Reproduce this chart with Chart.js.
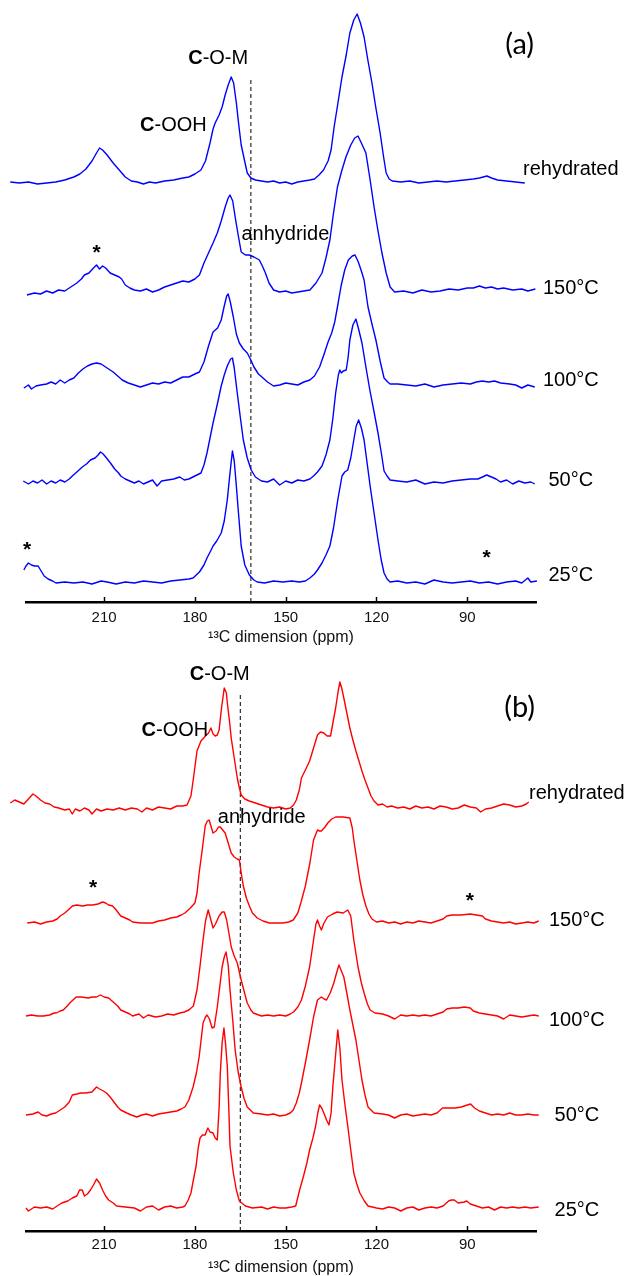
<!DOCTYPE html>
<html><head><meta charset="utf-8">
<script src="https://cdn.jsdelivr.net/npm/chart.js@4.4.1/dist/chart.umd.min.js"></script>
<style>
html,body{margin:0;padding:0;background:#fff;}
#wrap{position:relative;width:628px;height:1276px;overflow:hidden;}
#ca{position:absolute;left:0;top:0;}
#cb{position:absolute;left:0;top:650px;}
</style></head><body>
<div id="wrap"><canvas id="ca" width="628" height="650"></canvas><canvas id="cb" width="628" height="626"></canvas></div>
<script>
// ---------- data ----------
const tickValues = [210, 180, 150, 120, 90];
const seriesLabels = ['rehydrated', '150°C', '100°C', '50°C', '25°C'];
const axisTitle = '¹³C dimension (ppm)';
const ppmRange = [67.3, 235.8];          // [min, max] of the (reversed) ppm axis
const offsetsA = [419, 309, 216, 119, 19]; // stacking offsets, panel (a)
const offsetsB = [423, 308, 215, 116, 23]; // stacking offsets, panel (b)
const dashPpmA = 161.5, dashTopA = 522;
const dashPpmB = 165, dashTopB = 538;

// panel (a) spectra: [ppm, intensity]
const a_rehydrated = [[241,1],[238,0],[235,1],[232,-1],[229,0],[226,1],[223,3],[220,6],[218,9],[216,14],[214,22],[212.5,30],[211.5,35],[210.5,33],[209,28],[207,20],[205,13],[203,6],[201,2],[199,1],[197,-1],[195,1],[193,0],[190,2],[187,3],[184,5],[182,6],[180,9],[178,13],[176.5,22],[175,40],[174,54],[173.3,60],[172,68],[171,76],[170,88],[169,98],[168,106],[167.2,100],[166.3,80],[165.5,58],[164.7,38],[163.7,24],[162.7,10],[161.5,5],[160,3],[158,2],[156,1],[154,2],[152,0],[150,1],[148,-1],[146,1],[144,2],[142,3],[140.5,4],[139,8],[137.5,13],[136,22],[135,33],[134,56],[133,75],[131.4,106],[130,128],[128.8,150],[127.5,163],[126.4,169],[125.3,160],[124.1,146],[122.8,122],[121.5,100],[120.2,75],[118.8,50],[117.6,25],[116.8,10],[115.8,4],[114.8,2],[112,1],[109,2],[106,0],[103,1],[100,2],[97,1],[94,2],[91,3],[88,4],[86,5],[83.5,7],[82,5],[80,3],[77,2],[74,1],[71,0]];
const a_150 = [[235.5,-2],[233,0],[231,-1],[229,2],[227,0],[225,3],[223,2],[221,6],[219,10],[217.5,14],[216.5,18],[215,20],[213.5,25],[212.5,28],[211.5,24],[210.5,27],[209.5,25],[208,20],[206.5,18],[205,16],[204.2,14],[203,8],[201.5,5],[200,3],[198,2],[196,4],[194,1],[192,3],[190,6],[188,8],[186,10],[184,12],[182,11],[180,14],[178.5,18],[177,30],[175.5,40],[174,50],[172.6,60],[171.3,72],[170,86],[169,95],[168.4,98],[167.5,92],[166.7,76],[165.7,58],[164.7,41],[163.3,38],[162,38],[160.5,36],[158.7,33],[157.7,27],[156.7,20],[155.5,10],[154,3],[152,1],[150,2],[148,0],[146,1],[144,2],[142,3],[140,10],[138,20],[136.7,35],[135.4,53],[134.2,80],[132.9,106],[131.5,122],[130.1,136],[128.5,148],[127.2,155],[126.1,157],[125,150],[123.5,140],[122.2,115],[120.8,86],[119.5,62],[118.2,40],[116.8,20],[115.5,6],[114,1],[111,2],[108,0],[105,3],[102,1],[99,2],[96,4],[93,3],[90,5],[88,5],[86,7],[84,5],[82,6],[80,4],[78,5],[75,3],[72,4],[70,2],[67.5,4]];
const a_100 = [[236.5,-2],[235,1],[234,-3],[232.5,0],[231,1],[229,2],[227.5,4],[226,2],[224.5,6],[223,3],[221.5,6],[220,8],[218.5,13],[217,17],[215.5,20],[214,22],[212.5,23],[211,22],[209.5,19],[208,16],[207,14],[205.5,10],[204,6],[202,3],[200,1],[198,-1],[196,1],[194,3],[192,2],[190,4],[188,3],[186,6],[184,9],[182,9],[180,12],[178.5,14],[177,24],[175.5,40],[174,54],[172.5,58],[171.3,66],[170.3,80],[169.5,90],[169,92],[168.3,84],[167.3,69],[166.3,52],[165.3,43],[164,37],[162.7,33],[161.5,26],[160.5,19],[159,12],[157.5,8],[156,4],[154,0],[152,1],[150,3],[148,2],[146,1],[144,4],[142,6],[140.5,10],[138.8,19],[137.3,32],[136,44],[134.8,53],[133.8,64],[132.9,79],[131.7,100],[130.5,116],[129.3,126],[128,130],[127.1,131],[126,124],[125,115],[124.1,106],[122.8,79],[121.5,62],[120.2,46],[118.8,25],[117.5,8],[116.3,4],[115.5,2],[113,2],[110,1],[107,0],[104,2],[101,-1],[98,1],[95,2],[92,3],[89,2],[87,4],[85,5],[83,4],[81,5],[79,3],[76,2],[74,1],[72,-2],[70,1],[67.7,-1]];
const a_50 = [[236.7,2],[235,-1],[233.5,2],[232,0],[230.5,3],[229,-1],[227.5,2],[226,0],[224.5,3],[223,1],[221.5,4],[220.5,7],[219,11],[217.2,16],[215.8,19],[214.5,23],[213,25],[212,28],[211.2,31],[210.3,29],[209.2,25],[207.9,20],[206.5,14],[205.2,10],[204.5,7],[203,4],[201.5,2],[200,0],[198.5,2],[197,-1],[195.5,1],[194,3],[192.5,-3],[191,2],[189,3],[187,4],[185,6],[183.5,3],[182,4],[180,7],[178,10],[177,18],[176,30],[175,45],[174,60],[172.5,80],[171.3,97],[170.3,108],[169.3,117],[168.2,124],[167.6,125],[167,115],[166,90],[165,66],[164,43],[162.7,25],[161.4,13],[160,6],[158,2],[156,1],[154,4],[152,-2],[150,2],[148,0],[146,3],[144,2],[142,4],[140.8,7],[139.5,11],[138,17],[136.7,28],[135.4,43],[134.4,65],[133.5,90],[132.6,108],[132.1,113],[131.6,110],[131,112],[130,113],[129.4,125],[128.8,143],[127.8,158],[126.8,164],[126,155],[124.8,140],[123.5,116],[122.2,93],[120.8,71],[119.5,50],[118.3,28],[117.5,12],[116.5,7],[115.5,3],[113,2],[110,1],[107,3],[104,-1],[101,1],[98,0],[95,2],[92,3],[89,4],[86.5,4],[85,6],[83.6,8],[82,6],[80.5,4],[79,1],[77,3],[75,-1],[73,2],[71,0],[69,1],[67.7,-1]];
const a_25 = [[236.5,13],[235.8,17],[235,20],[234,18],[233,17],[231.8,17],[230.8,12],[229.8,7],[228.5,4],[227,2],[225.9,0],[223,1],[220,0],[217,1],[214,-1],[211,2],[209,1],[206,-1],[203,1],[200,0],[197,2],[194,1],[191,0],[188,2],[185,3],[182,4],[180.6,5],[178.5,11],[177,18],[176,25],[174.8,32],[174,37],[172.8,42],[171.3,50],[170.3,62],[169.3,83],[168.4,110],[167.6,132],[167,122],[166.3,97],[165.6,70],[164.7,37],[163.5,18],[162,8],[160.5,3],[159.4,1],[157,0],[154,2],[151,1],[148,2],[145.5,1],[143.5,2],[142,5],[140.5,9],[139.5,13],[138,20],[136.7,28],[135.4,37],[134.2,55],[132.8,83],[131.4,107],[130.5,111],[129.5,113],[128.5,125],[127.5,143],[126.7,157],[125.9,163],[125,155],[124.1,143],[123.1,120],[122.1,97],[120.8,70],[119.5,43],[118.5,24],[117.5,10],[116.5,4],[115.5,1],[113,2],[110,0],[107,1],[104,-1],[101,3],[98,1],[95,0],[92,1],[89,2],[86,0],[83,1],[80,-1],[77,1],[74,2],[72,0],[70,5],[69,1],[67,2]];

// panel (b) spectra: [ppm, intensity]
const b_rehydrated = [[241,5],[239.5,8],[238,6],[236.5,4],[235,9],[233.5,14],[232.5,12],[231,8],[229.5,5],[228,4],[226.5,1],[225,0],[223,-2],[221.5,-1],[220.5,-6],[219.5,-1],[218,-3],[216.5,0],[215,-2],[214,-6],[212.5,-1],[211,-3],[209,-1],[207,-2],[205,0],[203,-2],[201,0],[199,-1],[197.5,-4],[196,0],[194,-2],[192,1],[190,0],[188,-1],[186,2],[184,2],[182.6,3],[181.3,12],[180.6,27],[179.3,57],[178,67],[176.5,72],[175.5,75],[174.7,80],[174,74],[173.3,72],[172.6,73],[172,78],[171.2,100],[170.3,120],[169.6,115],[169.2,103],[168.5,85],[168,70],[167,50],[166,30],[165.3,20],[164.7,13],[163.5,9],[162,7],[160,5],[158,3],[156,1],[154,0],[152,1],[150,-1],[148.5,0],[147.4,3],[146.5,8],[145.5,18],[144.8,30],[143.5,38],[142.1,47],[140.8,60],[139.5,73],[138.5,76],[137.4,75],[136.3,72],[135.2,72],[134.4,85],[133.5,100],[132.7,116],[132.1,126],[131.5,120],[130.8,110],[129.8,95],[128.8,80],[127.8,68],[126.8,57],[125.8,47],[124.8,37],[123.8,28],[122.8,20],[121.8,12],[120.8,7],[119.5,3],[118,4],[116.5,1],[115,2],[113,0],[111,1],[109,-1],[107,2],[105,0],[103,1],[101,-1],[99,2],[97,1],[95,-1],[93,0],[91,3],[89,1],[87,0],[85.6,-4],[84,-1],[82,0],[80,2],[78,4],[76,3],[74,1],[72,2],[70.5,4],[69.7,6]];
const b_150 = [[235.4,0],[233,1],[231,-1],[229,1],[227,2],[225.5,4],[224.5,7],[223,10],[221.5,14],[220.5,17],[219,18],[217,17],[215.5,18],[213.8,18],[212,19],[210.5,21],[209.5,20],[208.5,18],[207.2,17],[206,13],[205,9],[204.5,7],[203,5],[201.5,3],[200.6,1],[198,0],[196,0],[194,0],[192,2],[190,3],[188,5],[186,6],[184.5,8],[183.3,10],[181.5,15],[180,20],[179.3,30],[178.6,50],[177.5,75],[176.6,97],[175.9,102],[175.3,103],[174.6,96],[174,90],[173,92],[172.2,96],[171.6,96],[170.8,93],[170,90],[169,80],[168,70],[167,66],[166,64],[165.3,63],[164.7,50],[164,37],[163,25],[162,17],[161,10],[159.4,5],[157.5,2],[155.4,0],[153,0],[151,0],[149,1],[147.5,3],[146,10],[145,20],[143.5,37],[142,60],[140.8,83],[139.5,93],[138.8,92],[138.2,92],[137,96],[136.1,100],[134.8,104],[133.5,106],[131,106],[128.8,105],[128,95],[127.5,83],[126.5,63],[125.5,43],[124.5,28],[123.5,17],[122.5,9],[121.5,4],[120,1],[118,2],[116,0],[114,1],[112,-1],[110,1],[108,0],[106,2],[104,1],[102,0],[100,2],[98,4],[96.8,7],[95,8],[92,8],[89,9],[87,8],[85,7],[84,4],[82,2],[80,1],[78,0],[76,1],[74,-1],[72,0],[70,1],[68,0],[66.4,2]];
const b_100 = [[235.8,0],[234,1],[232,0],[230,0],[228,1],[226.5,3],[225.8,3],[224.5,5],[223.5,6],[222.5,9],[221,14],[219.2,19],[217.5,19],[215.2,18],[214,19],[212.5,19],[211.2,21],[210,19],[208.5,18],[207,14],[205.5,10],[204.5,6],[203,4],[201.5,2],[200.6,0],[198.5,2],[197,-2],[195.5,1],[193,-1],[191,0],[189,2],[187,1],[185,3],[183.5,4],[182,6],[180.5,10],[179.3,26],[178.3,50],[177.3,76],[176.5,95],[175.6,106],[174.8,97],[174,88],[173.2,92],[172,100],[171,104],[170.3,104],[169.5,96],[168.6,80],[168,69],[167,60],[166,53],[164.7,36],[163.5,22],[162.7,13],[161.5,6],[160.7,3],[158,0],[156,1],[154,0],[152,1],[150,0],[148.5,2],[147.4,4],[146,9],[144.8,16],[143.5,30],[142.1,49],[140.8,76],[140,92],[139.5,96],[138.8,90],[138.2,86],[137.5,92],[136.2,99],[134.5,102],[133,104],[131,103],[129.5,106],[128.5,100],[127.5,76],[126.1,49],[125,33],[124.1,23],[123,12],[122.1,6],[120.5,3],[118,2],[116,0],[114,-3],[112,1],[110,0],[108,1],[106,0],[104,1],[102,0],[100,2],[98,4],[96.8,7],[95,8],[93,8],[91,9],[89,8],[88,5],[86,3],[84,2],[82,1],[80,0],[78,-3],[76,1],[74,0],[72,-1],[70,0],[68,1],[66.4,0]];
const b_50 = [[235.8,0],[233.5,1],[231.8,3],[230.5,0],[229,-1],[227.5,1],[226,2],[224.5,5],[223,8],[221.5,13],[220.5,20],[219,21],[217.8,22],[216,22],[214,23],[212.5,28],[211.5,26],[210.2,24],[209.2,22],[208,18],[206.5,12],[205.5,8],[204.5,5],[202.5,2],[201,0],[199.2,-2],[197.5,0],[196,1],[194,-1],[192,1],[190,2],[188,3],[186,4],[184.5,6],[183.3,8],[182,15],[180.6,28],[179.5,42],[178.6,58],[177.3,92],[176.5,98],[176,100],[175.2,96],[174.3,87],[173.6,88],[172.6,108],[171.8,128],[171,148],[170.3,158],[169.7,163],[169,150],[168.4,125],[167.5,95],[166.7,65],[165.7,43],[164.7,28],[163.7,16],[162.7,8],[160.7,2],[158,1],[156,0],[154,1],[152,-1],[150,0],[148.5,2],[147.5,5],[146.5,12],[145.5,22],[144.8,32],[143.5,52],[142.1,75],[140.8,98],[139.5,115],[138.2,118],[137.3,116],[136.5,115],[135.3,122],[134.1,132],[133.2,142],[132.4,150],[131.6,144],[130.8,138],[129.8,122],[128.8,105],[127.8,90],[126.8,75],[125.8,55],[124.8,35],[123.8,20],[122.8,8],[120.8,2],[118,1],[116,0],[114,-3],[112,0],[110,1],[108,-1],[106,0],[104,1],[102,0],[100,2],[98.2,7],[96,7],[94,7],[92,8],[90,10],[88.9,11],[87.6,7],[86,4],[84,2],[82,0],[80,1],[78,0],[76,2],[74,0],[72,0],[70,1],[68,0],[66.4,0]];
const b_25 = [[235.8,0],[235,-3],[233,1],[231,0],[229,1],[227,-1],[225.5,2],[224,5],[222,7],[220.5,10],[219,12],[218.1,18],[217.2,18],[216.5,12],[215.5,14],[214.5,18],[213.5,23],[212.5,29],[211.5,25],[210.5,18],[209.5,12],[208.5,8],[207,5],[205.9,2],[203,1],[200,0],[198,-3],[196,1],[194,2],[192,-2],[190,1],[188,2],[186,0],[184,1],[183.3,2],[182.2,8],[181.3,15],[180.5,28],[179.6,42],[178.9,60],[178.3,70],[177.5,73],[176.6,73],[176,78],[175.7,80],[175,76],[174,75],[173.3,70],[172.6,68],[172,100],[171.6,135],[171,165],[170.4,180],[169.9,165],[169.3,142],[168.8,100],[168.4,62],[167.3,35],[166.3,18],[165.3,7],[163.3,2],[161,0],[158,1],[156,-1],[154,1],[152,0],[150,0],[148,1],[146.7,2],[145.4,18],[144.1,32],[143,45],[142.1,58],[141,70],[140.1,82],[139.4,95],[138.8,103],[138.1,100],[137.4,95],[136.5,88],[135.7,83],[135,95],[134.4,122],[133.6,150],[132.8,178],[132.1,160],[131.4,128],[130.5,105],[129.5,82],[128.5,58],[127.5,35],[126.5,24],[125.5,15],[124,7],[122.8,2],[120,0],[118,-1],[116,1],[114,0],[112,-3],[110,0],[108,1],[106,-2],[104,0],[102,1],[100,0],[98,2],[96.2,7],[95.2,8],[94.3,8],[93,5],[91,6],[90.2,7],[89,4],[87,2],[85,0],[83,1],[81,-2],[79,1],[77,0],[75,1],[73,0],[71,1],[69,0],[66.4,1]];

const spectraA = [a_rehydrated, a_150, a_100, a_50, a_25];
const spectraB = [b_rehydrated, b_150, b_100, b_50, b_25];

// ---------- rendering ----------
const FONT = '"Liberation Sans", Arial, Helvetica, sans-serif';

function makePlugin(items) {
  return {
    id: 'annot',
    afterDraw(chart) {
      const ctx = chart.ctx, xs = chart.scales.x, ys = chart.scales.y;
      ctx.save();
      // inward tick marks on the x axis
      ctx.strokeStyle = '#000'; ctx.lineWidth = 1.5;
      xs.ticks.forEach(t => {
        const px = Math.round(xs.getPixelForValue(t.value)) + 0.5;
        ctx.beginPath(); ctx.moveTo(px, xs.top); ctx.lineTo(px, xs.top - 5); ctx.stroke();
      });
      // text annotations
      ctx.fillStyle = '#000';
      ctx.textBaseline = 'alphabetic'; ctx.textAlign = 'left';
      for (const it of items) {
        const parts = it.parts || [[it.text, it.weight || 'normal']];
        const size = it.size || 20, fam = it.family || FONT;
        let total = 0, asc = 0, desc = 0;
        const ms = parts.map(([t, w]) => {
          ctx.font = `${w} ${size}px ${fam}`;
          const m = ctx.measureText(t);
          total += m.width;
          asc = Math.max(asc, m.actualBoundingBoxAscent);
          desc = Math.max(desc, m.actualBoundingBoxDescent);
          return m;
        });
        const cx = xs.getPixelForValue(it.x), cy = ys.getPixelForValue(it.y);
        let x = cx - total / 2;
        const base = cy + (asc - desc) / 2;
        parts.forEach(([t, w], i) => {
          ctx.font = `${w} ${size}px ${fam}`;
          ctx.fillText(t, x, base);
          x += ms[i].width;
        });
      }
      ctx.restore();
    }
  };
}

function buildChart(canvasId, spectra, offsets, color, dashPpm, dashTop, yMax, xHeight, titlePad, tickPad, labelX, labelY, items) {
  const datasets = spectra.map((spec, i) => ({
    label: seriesLabels[i],
    data: spec.map(([p, v]) => ({ x: p, y: v + offsets[i] })),
    borderColor: color, borderWidth: 1.4, pointRadius: 0, showLine: true,
    tension: 0, clip: false, borderJoinStyle: 'round'
  }));
  datasets.push({
    label: 'ref', data: [{ x: dashPpm, y: 0 }, { x: dashPpm, y: dashTop }],
    borderColor: '#000', borderWidth: 1, borderDash: [4, 3], pointRadius: 0, showLine: true, clip: false
  });
  const allItems = items.concat(seriesLabels.map((s, i) => ({ text: s, x: labelX, y: labelY[i], size: 20 })));
  return new Chart(document.getElementById(canvasId), {
    type: 'scatter',
    data: { datasets },
    options: {
      responsive: false, animation: false, events: [],
      layout: { padding: { left: 26, right: 92, top: 0, bottom: 0 } },
      plugins: { legend: { display: false }, tooltip: { enabled: false } },
      scales: {
        x: {
          type: 'linear', reverse: true, min: ppmRange[0], max: ppmRange[1],
          afterBuildTicks: s => { s.ticks = tickValues.map(v => ({ value: v })); },
          afterFit: s => { s.height = xHeight; },
          grid: { display: false, drawTicks: false },
          border: { display: true, color: '#000', width: 2.6 },
          ticks: { color: '#111', font: { family: FONT, size: 15 }, padding: tickPad, autoSkip: false, maxRotation: 0 },
          title: { display: true, text: axisTitle, color: '#111', font: { family: FONT, size: 16, lineHeight: 1 }, padding: { top: 0, bottom: titlePad } }
        },
        y: { display: false, min: 0, max: yMax }
      }
    },
    plugins: [makePlugin(allItems)]
  });
}

const itemsA = [
  { parts: [['C', 'bold'], ['-O-M', 'normal']], x: 172.3, y: 544.7, size: 20 },
  { parts: [['C', 'bold'], ['-OOH', 'normal']], x: 187.1, y: 478, size: 20 },
  { text: 'anhydride', x: 150.1, y: 367.7, size: 20 },
  { text: '(a)', x: 72.7, y: 557, size: 29, family: 'Lato, "Open Sans", sans-serif' },
  { text: '*', weight: 'bold', x: 212.5, y: 350, size: 21 },
  { text: '*', weight: 'bold', x: 235.4, y: 52.7, size: 21 },
  { text: '*', weight: 'bold', x: 83.6, y: 45.3, size: 21 }
];
const itemsB = [
  { parts: [['C', 'bold'], ['-O-M', 'normal']], x: 171.8, y: 557.7, size: 20 },
  { parts: [['C', 'bold'], ['-OOH', 'normal']], x: 186.6, y: 501.7, size: 20 },
  { text: 'anhydride', x: 157.9, y: 413.7, size: 20 },
  { text: '(b)', x: 72.7, y: 523, size: 29, family: 'Lato, "Open Sans", sans-serif' },
  { text: '*', weight: 'bold', x: 213.6, y: 343.7, size: 21 },
  { text: '*', weight: 'bold', x: 89.2, y: 331, size: 21 }
];

buildChart('ca', spectraA, offsetsA, '#0000ff', dashPpmA, dashTopA, 602, 48, 4, 7, 55.8, [433, 316, 224, 124, 29], itemsA);
buildChart('cb', spectraB, offsetsB, '#ff0000', dashPpmB, dashTopB, 581, 45, 0, 5, 53.8, [438, 313, 213, 118, 23], itemsB);
</script>
</body></html>
